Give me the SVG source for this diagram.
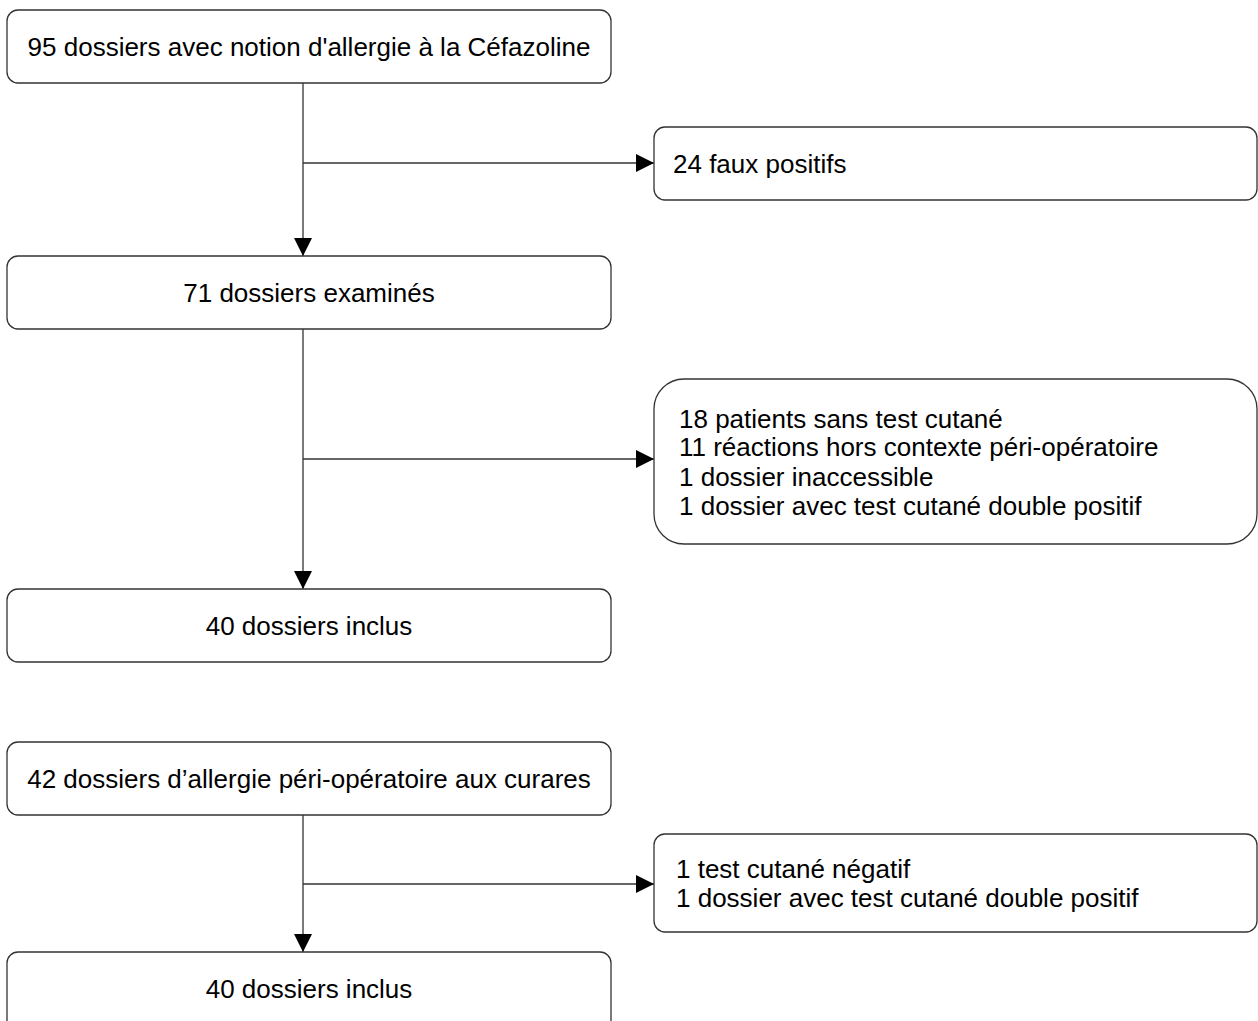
<svg xmlns="http://www.w3.org/2000/svg" width="1258" height="1021" viewBox="0 0 1258 1021">
<style>
.box{fill:#fff;stroke:#333;stroke-width:1.3}
.t{font-family:"Liberation Sans",Arial,sans-serif;font-size:26px;fill:#000}
.c{text-anchor:middle}
.ln{stroke:#333;stroke-width:1.3;fill:none}
</style>
<defs>
<marker id="ah" markerWidth="18" markerHeight="18" refX="18" refY="9" orient="auto" markerUnits="userSpaceOnUse" viewBox="0 0 18 18">
<path d="M0,0 L18,9 L0,18 Z" fill="#000"/>
</marker>
</defs>
<rect width="1258" height="1021" fill="#fff"/>
<g id="connectors">
<path class="ln" d="M303,83 V256" marker-end="url(#ah)"/>
<path class="ln" d="M303,163 H654" marker-end="url(#ah)"/>
<path class="ln" d="M303,329 V589" marker-end="url(#ah)"/>
<path class="ln" d="M303,459 H654" marker-end="url(#ah)"/>
<path class="ln" d="M303,815 V952" marker-end="url(#ah)"/>
<path class="ln" d="M303,884 H654" marker-end="url(#ah)"/>
</g>
<g id="n1"><rect class="box" x="7" y="10" width="604" height="73" rx="11"/><text class="t c" x="309" y="56">95 dossiers avec notion d'allergie à la Céfazoline</text></g>
<g id="n2"><rect class="box" x="654" y="127" width="603" height="73" rx="11"/><text class="t" x="673" y="173">24 faux positifs</text></g>
<g id="n3"><rect class="box" x="7" y="256" width="604" height="73" rx="11"/><text class="t c" x="309" y="302">71 dossiers examinés</text></g>
<g id="n4"><rect class="box" x="654" y="379" width="603" height="165" rx="30"/><text class="t" x="679" y="428">18 patients sans test cutané</text><text class="t" x="679" y="456">11 réactions hors contexte péri-opératoire</text><text class="t" x="679" y="486">1 dossier inaccessible</text><text class="t" x="679" y="515">1 dossier avec test cutané double positif</text></g>
<g id="n5"><rect class="box" x="7" y="589" width="604" height="73" rx="11"/><text class="t c" x="309" y="635">40 dossiers inclus</text></g>
<g id="n6"><rect class="box" x="7" y="742" width="604" height="73" rx="11"/><text class="t c" x="309" y="788">42 dossiers d’allergie péri-opératoire aux curares</text></g>
<g id="n7"><rect class="box" x="654" y="834" width="603" height="98" rx="11"/><text class="t" x="676" y="878">1 test cutané négatif</text><text class="t" x="676" y="907">1 dossier avec test cutané double positif</text></g>
<g id="n8"><rect class="box" x="7" y="952" width="604" height="80" rx="11"/><text class="t c" x="309" y="998">40 dossiers inclus</text></g>
</svg>
